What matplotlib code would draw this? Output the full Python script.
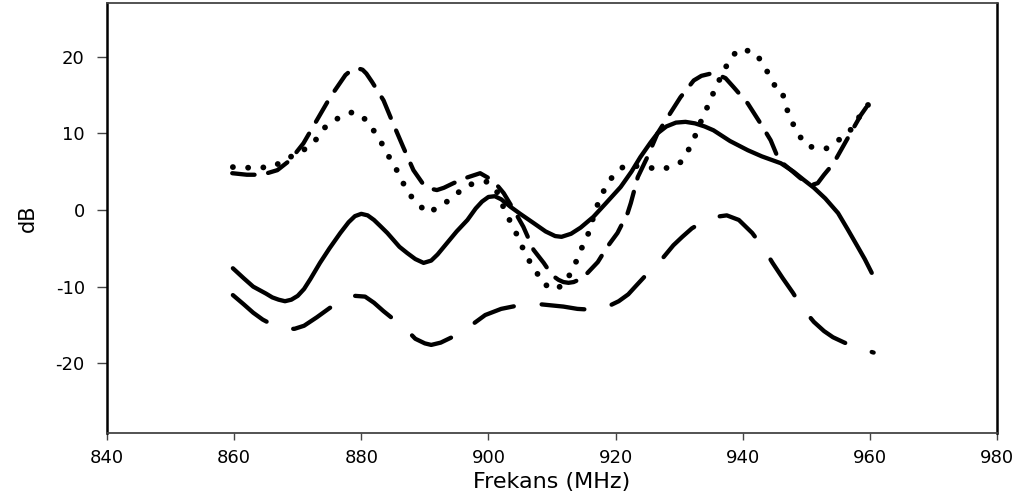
import matplotlib
matplotlib.use("Agg")
import matplotlib.pyplot as plt

plt.rcParams['axes.unicode_minus'] = False

# values (MHz, dB)
freq_solid = [859.8, 861.5, 863, 865, 866, 867, 868, 869, 870, 871, 872, 873.5, 875, 876.7, 878,
              879, 880, 881, 882, 883, 884.1, 886, 887.2, 888.5, 889.8, 891, 892, 893.5, 895,
              896.7, 898, 899, 900, 901, 902, 903.5, 905, 907.1, 909, 910.5, 911.5, 913, 914.5,
              916.5, 918.5, 920.8, 922.5, 923.9, 925.5, 926.6, 928, 929.5, 931, 932.5, 934,
              935.4, 938, 940.8, 943, 946, 948, 949.5, 951.2, 953, 955, 956.5, 958.1, 959.2,
              960.3]
db_solid = [-7.6, -8.9, -10, -10.9, -11.4, -11.7, -11.9, -11.7, -11.2, -10.3, -9, -6.9, -5, -3, -1.6,
            -0.8, -0.5, -0.7, -1.3, -2.1, -3, -4.8, -5.6, -6.4, -6.9, -6.6, -5.8, -4.3, -2.8,
            -1.3, 0.2, 1.1, 1.7, 1.8, 1.4, 0.4, -0.5, -1.7, -2.8, -3.4, -3.5, -3.1, -2.3,
            -0.9, 0.9, 3, 5, 6.9, 8.8, 10, 10.9, 11.4, 11.5, 11.3, 10.9,
            10.4, 9, 7.8, 7, 6.1, 5, 4, 2.9, 1.5, -0.4, -2.5, -4.8, -6.4,
            -8.2]

freq_long = [859.8, 861.5, 863, 864.5, 866.1, 868, 869.5, 871, 873, 875, 877, 879, 880.6, 882,
             883.5, 885, 886.5, 888.5, 890, 891, 892.5, 894.5, 896.7, 899.5, 902, 905, 908.2,
             911.8, 914, 916, 918.5, 920.5, 922, 923.1, 925, 927.4, 929.1, 930.5, 932, 934,
             935.7, 937.5, 939.4, 941.5, 943.3, 944.7, 946.3, 947.9, 949.1, 950.2, 951.2,
             952.8, 954.2, 956, 957.8, 960.6]
db_long = [-11.1, -12.3, -13.4, -14.3, -15, -15.5, -15.5, -15.1, -14, -12.8, -11.7, -11.2, -11.3, -12.1,
           -13.2, -14.2, -15.1, -16.8, -17.4, -17.6, -17.3, -16.5, -15.4, -13.7, -12.9, -12.4, -12.3,
           -12.6, -12.9, -13, -12.7, -11.9, -11, -10, -8.3, -6.3, -4.6, -3.5, -2.4, -1.4,
           -0.9, -0.7, -1.3, -3, -5, -6.9, -8.9, -10.8, -12.4, -13.6, -14.6,
           -15.8, -16.6, -17.3, -17.9, -18.6]

freq_dash = [859.7, 862, 864.4, 866.8, 868.8, 870.9, 873, 875.1, 877.5, 878.5, 879.4, 880.2, 880.8,
             881.7, 883.5, 885, 886.6, 888.2, 889.8, 890.8, 891.9, 893, 894.5, 896.5, 898.7,
             900.8, 902.4, 904, 905.5, 907.1, 908.7, 910, 911, 911.8, 912.6, 913.4, 914.5,
             915.6, 917.2, 918.7, 920.3, 921.9, 922.4, 923.5, 925, 926.6, 928.2, 930.2, 932.3,
             933.5, 935, 936.2, 937.3, 938.6, 940.8, 942.8, 944.4, 945.7, 947.6, 949, 950.2,
             951, 951.8, 952.8, 954.3, 956.2, 957.5, 958.6, 960.2]
db_dash = [4.8, 4.6, 4.6, 5.2, 6.5, 8.7, 11.7, 14.7, 17.6, 18.3, 18.5, 18.3, 17.8,
           16.7, 14.3, 11.3, 8.2, 5.2, 3.3, 2.8, 2.6, 2.9, 3.5, 4.2, 4.8,
           3.8, 2.2, 0, -2.2, -5.2, -6.9, -8.5, -9.1, -9.4, -9.5, -9.4, -9,
           -8.2, -6.8, -4.8, -3, -0.4, 0.9, 4.3, 6.9, 10, 12.1, 14.7, 16.9,
           17.5, 17.8, 17.6, 17.2, 16, 13.9, 11.3, 9.1, 6.5, 5.2, 4.2, 3.5,
           3.3, 3.5, 4.6, 6.1, 8.9, 10.8, 12.4, 14.3]

freq_dot = [859.8, 862.8, 866, 868.8, 870.9, 872.8, 874, 876.2, 878.7, 880.9, 882, 883, 883.8,
            884.9, 885.7, 886.6, 887.4, 888.8, 890.4, 892.9, 894.8, 896.9, 899.8, 901.4, 902.7,
            903.5, 904.3, 905, 905.8, 906.6, 907.7, 908.5, 910.7, 912.4, 913.2, 914, 914.6,
            915.4, 916.1, 916.5, 917.6, 918.7, 919.7, 921.6, 927.4, 930.1, 931.2, 932, 932.8,
            933.4, 934.2, 934.8, 935.6, 936.4, 937.2, 938, 939.4, 941.9, 943, 943.9, 944.9,
            945.5, 946.3, 946.8, 947.2, 948, 948.8, 950.2, 953.1, 955.4, 957.3, 958.3, 959.8]
db_dot = [5.6, 5.5, 5.6, 6.9, 7.8, 9.1, 10.6, 11.9, 12.8, 11.7, 10.3, 9.1, 7.6,
          6.3, 5, 3.5, 2.2, 0.9, -0.4, 0.7, 2, 3.3, 3.7, 2.3, -0.3,
          -1.6, -2.9, -4.3, -5.6, -6.9, -8.3, -9.6, -10.4, -9.1, -7.7, -6.4, -5.1,
          -3.7, -2.3, -0.9, 1.7, 3.3, 4.6, 5.9, 5.3, 6.1, 7.4, 8.7, 10.2,
          11.5, 12.9, 14.3, 15.6, 17.1, 18.4, 19.7, 21, 20.6, 19.3, 18, 16.5,
          15.3, 15.1, 13.8, 12.4, 11.1, 9.8, 8.3, 8, 9.3, 10.7, 12.1, 13.8]

fig = plt.figure(figsize=(10.26, 4.99), dpi=100)
ax = fig.add_axes([0.1043, 0.1329, 0.8674, 0.8601])

ax.plot(freq_solid, db_solid, color='black', lw=3.1, solid_capstyle='round',
        solid_joinstyle='round')
ax.plot(freq_long, db_long, color='black', lw=3.1, dash_capstyle='round',
        dash_joinstyle='round', linestyle=(0, (10, 6.5)))
ax.plot(freq_dash, db_dash, color='black', lw=3.1, dash_capstyle='round',
        dash_joinstyle='round', linestyle=(0, (5.2, 3.2)))
ax.plot(freq_dot, db_dot, color='black', lw=4.2, dash_capstyle='round',
        linestyle=(0, (0.01, 2.6)))

ax.set_xlim(840, 980)
ax.set_ylim(-29.05, 26.94)
ax.set_xticks(range(840, 981, 20))
ax.set_yticks(range(-20, 21, 10))

for side in ['left', 'right']:
    ax.spines[side].set_color('black')
    ax.spines[side].set_linewidth(1.8)
for side in ['top', 'bottom']:
    ax.spines[side].set_color('#444444')
    ax.spines[side].set_linewidth(1.3)

ax.tick_params(axis='x', direction='out', length=5, width=1, color='#444444',
               labelsize=13, pad=7)
ax.tick_params(axis='y', direction='out', length=7, width=1, color='#444444',
               labelsize=13, pad=9)
for lab in ax.get_xticklabels() + ax.get_yticklabels():
    lab.set_fontfamily('DejaVu Sans')

ax.set_xlabel('Frekans (MHz)', fontsize=16, family='DejaVu Sans', labelpad=3)
ax.set_ylabel('dB', fontsize=15, family='DejaVu Sans', labelpad=13)

fig.savefig('out.png', dpi=100, facecolor='white')
